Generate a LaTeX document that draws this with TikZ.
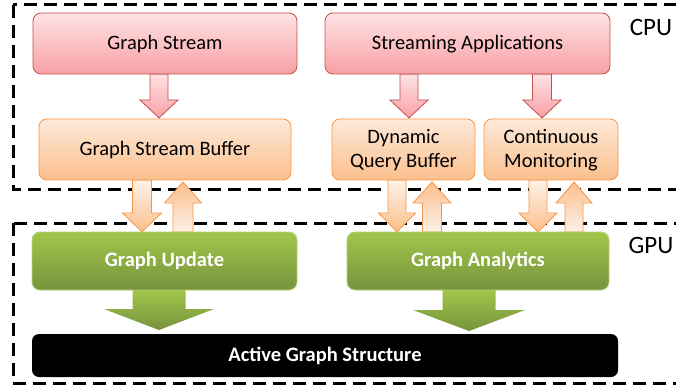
\documentclass[tikz,border=0pt]{standalone}
\usepackage{fontspec}
\setmainfont{Carlito}
\begin{document}
\begin{tikzpicture}[x=1pt,y=-1pt,
  redbox/.style={draw=redline, line width=0.8pt, rounded corners=8pt, top color=redtop, bottom color=redbot},
  orbox/.style={draw=orline, line width=0.8pt, rounded corners=8pt, top color=ortop, bottom color=orbot},
  grbox/.style={draw=grline, line width=0.8pt, rounded corners=8pt, top color=grtop, bottom color=grbot},
  blkbox/.style={fill=black, rounded corners=7pt},
  txt/.style={font=\fontsize{20.5}{24}\selectfont, text=black, align=center},
  wtxt/.style={font=\fontsize{20.5}{24}\selectfont\bfseries, text=white, align=center},
  redarr/.style={draw=redline, line width=0.8pt, top color=redtop, bottom color=redbot},
  ordown/.style={draw=orline, line width=0.8pt, top color=ortop!60!white, bottom color=orbot},
  orup/.style={draw=orline, line width=0.8pt, top color=orbot, bottom color=ortop!60!white},
  grarr/.style={top color=grtop, bottom color=grbot},
  region/.style={draw=black, line width=3pt, dash pattern=on 13pt off 7pt},
  lbl/.style={font=\fontsize{25}{28}\selectfont, text=black}
]
\definecolor{redtop}{HTML}{FFE3E5}
\definecolor{redbot}{HTML}{F7A0A4}
\definecolor{redline}{HTML}{C0504D}
\definecolor{ortop}{HTML}{FDE9D9}
\definecolor{orbot}{HTML}{FBBF8C}
\definecolor{orline}{HTML}{F79646}
\definecolor{grtop}{HTML}{A2C64B}
\definecolor{grbot}{HTML}{76933C}
\definecolor{grline}{HTML}{B5D07A}
\newcommand\barrow[7]{\path[#7] ({#1-#5},#2) -- ({#1+#5},#2) -- ({#1+#5},#3) -- ({#1+#6},#3) -- (#1,#4) -- ({#1-#6},#3) -- ({#1-#5},#3) -- cycle;}
\useasboundingbox (0,0) rectangle (676,387);
\fill[white] (0,0) rectangle (676,387);
% regions
\draw[region] (13,5) rectangle (700,190);
\draw[region] (13,223) rectangle (700,383);
\node[lbl] (cpu) at (651,27) {CPU};
\node[lbl] (gpu) at (651,245) {GPU};
% arrows
\barrow{159}{74}{100}{118}{9}{19}{redarr}
\barrow{409}{74}{100}{118}{9}{19}{redarr}
\barrow{542}{74}{100}{118}{9.5}{19}{redarr}
\barrow{142}{180}{213}{232}{9.5}{19.5}{ordown}
\barrow{397}{180}{213}{232}{9}{18.5}{ordown}
\barrow{538}{180}{213}{232}{9}{19}{ordown}
\barrow{183}{232}{203}{182}{10}{18.5}{orup}
\barrow{432}{232}{203}{182}{9.5}{19}{orup}
\barrow{574}{232}{203}{182}{9}{18}{orup}
\barrow{159}{290}{309}{330}{26.5}{55}{grarr}
\barrow{469}{290}{310}{331}{26.5}{56}{grarr}
% boxes
\path[redbox] (33,13) rectangle (297,74);
\node[txt] (gs) at (165,44) {Graph Stream};
\path[redbox] (325,13) rectangle (610,74);
\node[txt] (sa) at (467.5,44) {Streaming Applications};
\path[orbox] (39,119) rectangle (291,180);
\node[txt] (gsb) at (165,150) {Graph Stream Buffer};
\path[orbox] (332,119) rectangle (475,180);
\node[txt] (dqb) at (403.5,150) {Dynamic\\Query Buffer};
\path[orbox] (484,119) rectangle (618,180);
\node[txt] (cm) at (551,150) {Continuous\\Monitoring};
\path[grbox] (32,232) rectangle (297,290);
\node[wtxt] (gu) at (164.5,261) {Graph Update};
\path[grbox] (347,232) rectangle (609,290);
\node[wtxt] (ga) at (478,261) {Graph Analytics};
\path[blkbox] (32,334) rectangle (618,377);
\node[wtxt] (ags) at (325,355.5) {Active Graph Structure};
\end{tikzpicture}
\end{document}
